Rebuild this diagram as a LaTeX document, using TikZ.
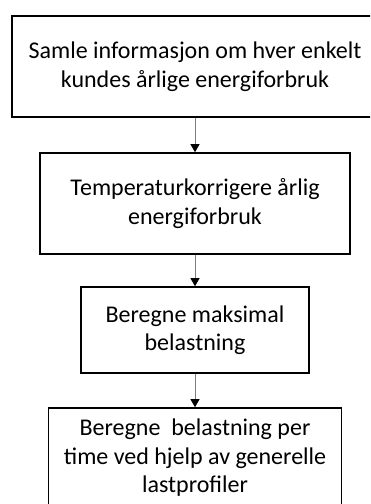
\documentclass[tikz,border=0pt]{standalone}
\usepackage{fontspec}
\setmainfont{Carlito}
\usetikzlibrary{arrows.meta}

\begin{document}
\begin{tikzpicture}[x=1pt, y=-1pt,
  boks/.style={draw, line width=1.6pt, align=center, inner sep=0pt,
    font=\fontsize{24}{28.5}\selectfont},
  pil/.style={draw=gray, line width=1pt, -{Triangle[width=9pt,length=8pt,black]}}]
\clip (0,0) rectangle (370,504);

\node[boks, minimum width=366pt, minimum height=101pt] (samle) at (195,66.5)
  {Samle informasjon om hver enkelt\\kundes årlige energiforbruk};
\node[boks, minimum width=310pt, minimum height=101pt] (temp) at (195,203.5)
  {Temperaturkorrigere årlig\\energiforbruk};
\node[boks, minimum width=228pt, minimum height=86pt] (maks) at (195,330)
  {Beregne maksimal\\belastning};
\node[boks, minimum width=293pt, minimum height=100pt] (time) at (195,458)
  {Beregne~ belastning per\\time ved hjelp av generelle\\lastprofiler};

\draw[pil] (samle) -- (temp);
\draw[pil] (temp) -- (maks);
\draw[pil] (maks) -- (time);
\end{tikzpicture}
\end{document}
